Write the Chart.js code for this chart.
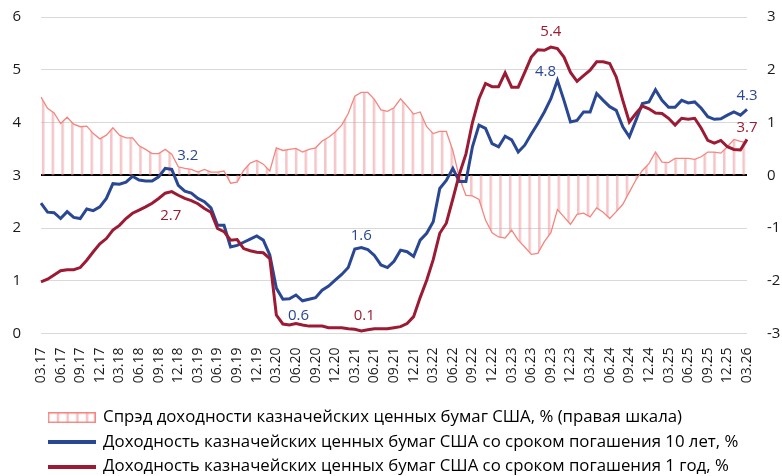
<!DOCTYPE html>
<html>
<head>
<meta charset="utf-8">
<script src="https://cdn.jsdelivr.net/npm/chart.js@4.4.1/dist/chart.umd.min.js"></script>
<style>
  html, body { margin: 0; padding: 0; background: #fff; overflow: hidden; }
  #wrap { position: relative; width: 782px; height: 485px; }
</style>
</head>
<body>
<div id="wrap"><canvas id="chart"></canvas></div>
<script>
// monthly points, 03.17 .. 03.26
const months = [];
for (let k = 0; k < 109; k++) {
  const m = (2 + k) % 12 + 1;
  const y = 17 + Math.floor((2 + k) / 12);
  months.push(String(m).padStart(2, '0') + '.' + y);
}

// 10y UST yield, %
const ust10 = [
  2.47, 2.30, 2.29, 2.18, 2.31, 2.20, 2.18, 2.36, 2.33, 2.40,
  2.56, 2.84, 2.83, 2.87, 2.98, 2.91, 2.89, 2.89, 2.97, 3.13,
  3.11, 2.81, 2.70, 2.66, 2.56, 2.50, 2.38, 2.05, 2.05, 1.64,
  1.67, 1.73, 1.79, 1.85, 1.77, 1.49, 0.86, 0.65, 0.66, 0.73,
  0.62, 0.65, 0.68, 0.82, 0.90, 1.01, 1.12, 1.25, 1.60, 1.63,
  1.59, 1.48, 1.30, 1.25, 1.37, 1.58, 1.55, 1.46, 1.77, 1.90,
  2.12, 2.75, 2.90, 3.13, 2.88, 2.88, 3.54, 3.95, 3.89, 3.60,
  3.54, 3.74, 3.67, 3.44, 3.57, 3.78, 3.98, 4.20, 4.45, 4.80,
  4.42, 4.01, 4.04, 4.20, 4.20, 4.55, 4.42, 4.30, 4.23, 3.92,
  3.73, 4.04, 4.36, 4.39, 4.62, 4.42, 4.29, 4.29, 4.42, 4.37,
  4.39, 4.27, 4.11, 4.06, 4.07, 4.14, 4.20, 4.14, 4.25
];

// 1y UST yield, %
const ust1 = [
  0.98, 1.03, 1.11, 1.19, 1.21, 1.21, 1.25, 1.39, 1.55, 1.70,
  1.80, 1.96, 2.05, 2.18, 2.28, 2.34, 2.40, 2.47, 2.56, 2.66,
  2.69, 2.62, 2.56, 2.52, 2.46, 2.37, 2.30, 1.99, 1.93, 1.77,
  1.78, 1.61, 1.57, 1.54, 1.53, 1.42, 0.35, 0.18, 0.16, 0.19,
  0.16, 0.14, 0.14, 0.14, 0.11, 0.11, 0.11, 0.09, 0.08, 0.05,
  0.07, 0.09, 0.09, 0.09, 0.11, 0.13, 0.19, 0.32, 0.68, 1.01,
  1.40, 1.90, 2.09, 2.55, 3.02, 3.40, 4.00, 4.45, 4.74, 4.68,
  4.68, 4.94, 4.67, 4.67, 4.95, 5.24, 5.38, 5.37, 5.43, 5.40,
  5.24, 4.95, 4.78, 4.89, 4.99, 5.15, 5.15, 5.12, 4.86, 4.42,
  4.01, 4.17, 4.31, 4.26, 4.18, 4.17, 4.08, 3.95, 4.08, 4.06,
  4.08, 3.89, 3.66, 3.61, 3.66, 3.54, 3.49, 3.48, 3.68
];

// spread, p.p. (right axis)
const spread = [
  1.48, 1.27, 1.18, 0.98, 1.10, 0.97, 0.92, 0.93, 0.79, 0.69,
  0.76, 0.90, 0.76, 0.71, 0.71, 0.56, 0.49, 0.41, 0.41, 0.49,
  0.40, 0.16, 0.13, 0.11, 0.06, 0.11, 0.06, 0.06, 0.08, -0.15,
  -0.13, 0.09, 0.23, 0.28, 0.21, 0.08, 0.52, 0.47, 0.49, 0.51,
  0.44, 0.49, 0.52, 0.65, 0.72, 0.82, 0.95, 1.17, 1.50, 1.57,
  1.57, 1.44, 1.24, 1.21, 1.28, 1.45, 1.31, 1.16, 1.20, 0.92,
  0.79, 0.83, 0.83, 0.47, -0.05, -0.38, -0.39, -0.46, -0.85, -1.09,
  -1.17, -1.19, -1.04, -1.23, -1.36, -1.50, -1.48, -1.26, -1.09, -0.65,
  -0.79, -0.93, -0.74, -0.72, -0.79, -0.62, -0.70, -0.82, -0.69, -0.55,
  -0.32, -0.09, 0.09, 0.22, 0.44, 0.25, 0.24, 0.32, 0.32, 0.32,
  0.30, 0.35, 0.44, 0.44, 0.42, 0.54, 0.68, 0.64, 0.62
];

const seriesNames = [
  'Спрэд доходности казначейских ценных бумаг США, % (правая шкала)',
  'Доходность казначейских ценных бумаг США со сроком погашения 10 лет, %',
  'Доходность казначейских ценных бумаг США со сроком погашения 1 год, %'
];

// value labels: [dataset, index, text, dx, dy]
const valueLabels = [
  [1, 20, '3.2', 16, -14],
  [2, 20, '2.7', -1, 24],
  [1, 40, '0.6', -4, 15],
  [2, 49, '0.1', 3, -15],
  [1, 49, '1.6', 0, -12],
  [1, 79, '4.8', -12, -9],
  [2, 78, '5.4', 0, -15],
  [1, 108, '4.3', 0, -14],
  [2, 108, '3.7', 0, -12]
];

const BLUE = '#2a4793';
const RED = '#9c1b34';
const PINK = '#f4857f';
const FONT = "'Open Sans', sans-serif";

// vertical hatch for the spread area
function makeStripe(ctx) {
  const c = document.createElement('canvas');
  c.width = 10; c.height = 10;
  const g = c.getContext('2d');
  g.fillStyle = 'rgba(236,150,155,0.55)';
  g.fillRect(3, 0, 2.6, 10);
  const p = ctx.createPattern(c, 'repeat');
  if (p.setTransform) p.setTransform(new DOMMatrix().scale(0.973, 1));
  return p;
}

function legendImg(kind, color) {
  const c = document.createElement('canvas');
  if (kind === 'box') {
    c.width = 48; c.height = 11;
    const g = c.getContext('2d');
    g.fillStyle = 'rgba(236,150,155,0.6)';
    for (let x = 9; x < 46; x += 9.7) g.fillRect(x, 1, 2.4, 9);
    g.strokeStyle = PINK; g.lineWidth = 1.5;
    g.strokeRect(0.75, 0.75, 46.5, 9.5);
  } else {
    c.width = 48; c.height = 4;
    const g = c.getContext('2d');
    g.fillStyle = color;
    g.fillRect(0, 0, 48, 4);
  }
  return c;
}

const labelPlugin = {
  id: 'valueLabels',
  afterDatasetsDraw(chart) {
    const ctx = chart.ctx;
    ctx.save();
    ctx.font = '15px ' + FONT;
    ctx.textAlign = 'center';
    ctx.textBaseline = 'middle';
    valueLabels.forEach(([ds, i, txt, dx, dy]) => {
      const pt = chart.getDatasetMeta(ds).data[i];
      ctx.fillStyle = ds === 1 ? BLUE : RED;
      ctx.fillText(txt, pt.x + dx, pt.y + dy);
    });
    ctx.restore();
  }
};

// fixed axis sizes, no extra label padding above/below the plot
const fitY = w => s => { s.width = w; s.paddingTop = 0; s.paddingBottom = 0; };

const canvas = document.getElementById('chart');
const ctx2d = canvas.getContext('2d');
const legendImgs = [legendImg('box'), legendImg('line', BLUE), legendImg('line', RED)];

new Chart(canvas, {
  type: 'line',
  data: {
    labels: months,
    datasets: [
      {
        label: seriesNames[0], data: spread, yAxisID: 'yR', order: 2,
        borderColor: PINK, borderWidth: 1.3, pointRadius: 0, tension: 0,
        fill: 'origin', backgroundColor: makeStripe(ctx2d)
      },
      {
        label: seriesNames[1], data: ust10, yAxisID: 'y', order: 1,
        borderColor: BLUE, borderWidth: 3, pointRadius: 0, tension: 0, fill: false
      },
      {
        label: seriesNames[2], data: ust1, yAxisID: 'y', order: 0,
        borderColor: RED, borderWidth: 3, pointRadius: 0, tension: 0, fill: false
      }
    ]
  },
  options: {
    responsive: true,
    maintainAspectRatio: false,
    animation: false,
    layout: { padding: { top: 17, left: 0, right: 0, bottom: 0 } },
    plugins: {
      tooltip: { enabled: false },
      legend: {
        position: 'bottom',
        align: 'start',
        fullSize: false,
        labels: {
          usePointStyle: true,
          pointStyleWidth: 46,
          padding: 7.7,
          color: '#1a1a1a',
          font: { family: FONT, size: 16.8 },
          generateLabels: () => seriesNames.map((t, i) => ({
            text: t, pointStyle: legendImgs[i], datasetIndex: i,
            fillStyle: 'transparent', strokeStyle: 'transparent', lineWidth: 0, hidden: false
          }))
        }
      }
    },
    scales: {
      x: {
        grid: { display: false, drawTicks: false },
        border: { display: false },
        afterFit: s => { s.height = 68; },
        ticks: {
          autoSkip: false, minRotation: 90, maxRotation: 90, padding: 14,
          color: '#1a1a1a', font: { family: FONT, size: 14 },
          callback: (v, i) => (i % 3 === 0 ? months[i] : '')
        }
      },
      y: {
        position: 'left', min: 0, max: 6,
        afterFit: fitY(41),
        border: { display: false },
        grid: {
          drawTicks: false,
          color: c => (c.tick && c.tick.value === 3 ? '#000' : '#d9d9d9'),
          lineWidth: c => (c.tick && c.tick.value === 3 ? 2 : 1)
        },
        ticks: { stepSize: 1, padding: 20, color: '#1a1a1a', font: { family: FONT, size: 15 } }
      },
      yR: {
        position: 'right', min: -3, max: 3,
        afterFit: fitY(35),
        border: { display: false },
        grid: { display: false, drawTicks: false },
        ticks: { stepSize: 1, padding: 20, color: '#1a1a1a', font: { family: FONT, size: 15 } }
      }
    }
  },
  plugins: [labelPlugin]
});
</script>
</body>
</html>
